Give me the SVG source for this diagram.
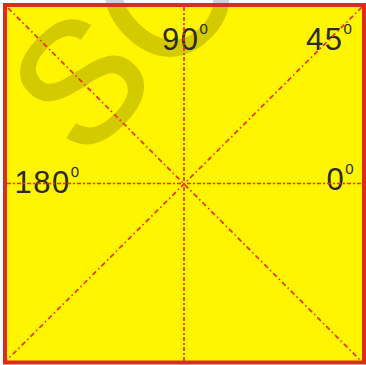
<svg xmlns="http://www.w3.org/2000/svg" width="366" height="365" viewBox="0 0 366 365">
  <style>
    .lbl { font-family: "Liberation Sans", Arial, sans-serif; font-size: 31px; fill: #2a2a2a; letter-spacing: 1.5px; }
    .sup { font-size: 15px; letter-spacing: 0; }
    .axis { stroke: #e8321e; stroke-width: 1.7; fill: none; stroke-dasharray: 4 2 2 2; }
    .diag { stroke: #e8321e; stroke-width: 1.7; fill: none; stroke-dasharray: 5 3 1.5 3; }
    .wm { font-family: "Liberation Sans", Arial, sans-serif; font-size: 170px; fill: #000; stroke: #000; stroke-width: 2; }
  </style>
  <rect width="366" height="365" fill="#ffffff"/>
  <g id="frame-fill">
    <rect x="5" y="5" width="359" height="357.5" fill="#fff500"/>
  </g>
  <g id="watermark" opacity="0.17">
    <text class="wm" x="82" y="163" transform="rotate(-45 82 163)">SO</text>
  </g>
  <g id="label-90">
    <text class="lbl" x="162" y="50">90<tspan class="sup" dy="-16">0</tspan></text>
  </g>
  <g id="label-45">
    <text class="lbl" x="306" y="50">45<tspan class="sup" dy="-16">0</tspan></text>
  </g>
  <g id="label-180">
    <text class="lbl" x="14.5" y="193">180<tspan class="sup" dy="-16">0</tspan></text>
  </g>
  <g id="label-0">
    <text class="lbl" x="326.5" y="190">0<tspan class="sup" dy="-16">0</tspan></text>
  </g>
  <g id="connectors">
    <line class="axis" x1="7" y1="183.5" x2="362" y2="183.5"/>
    <line class="axis" x1="184" y1="7" x2="184" y2="361"/>
    <line class="diag" x1="8" y1="8" x2="361" y2="361"/>
    <line class="diag" x1="362" y1="7" x2="7" y2="360"/>
  </g>
  <g id="frame">
    <rect x="5" y="5" width="359" height="357.5" fill="none" stroke="#e02a1e" stroke-width="4"/>
  </g>
</svg>
